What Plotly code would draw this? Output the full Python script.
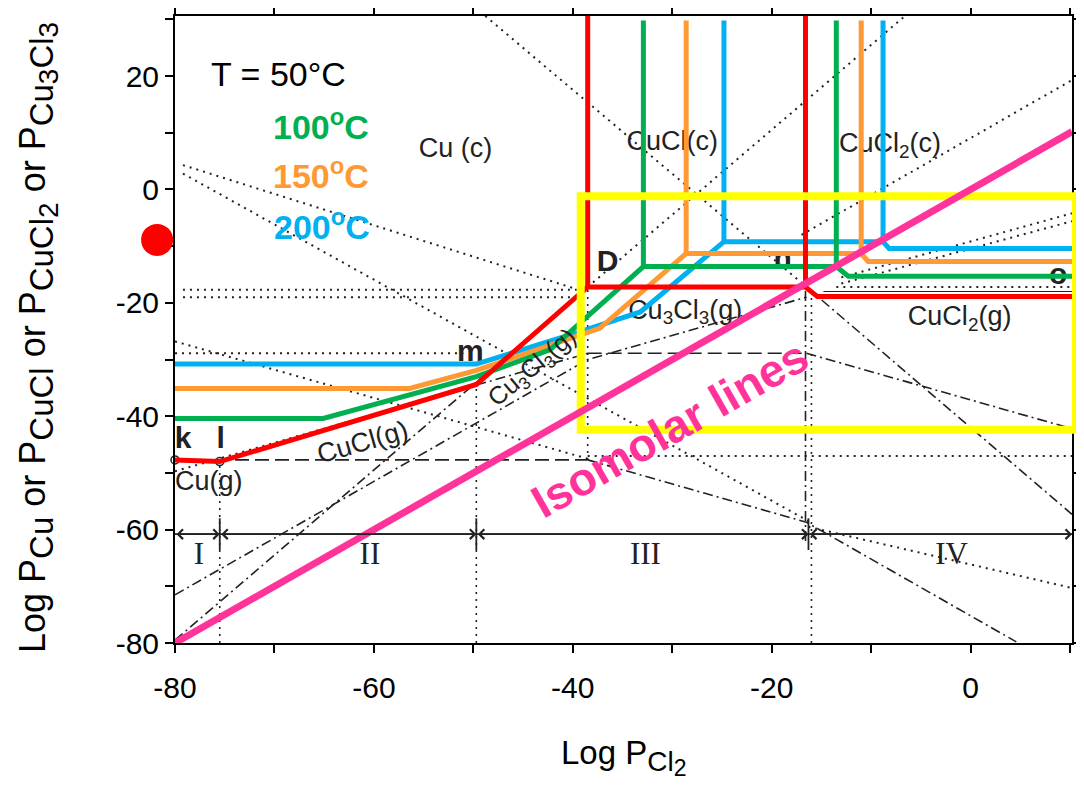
import plotly.graph_objects as go

FONT = "Liberation Sans, Arial, sans-serif"
SERIF = "Liberation Serif, Times New Roman, serif"

# ---------------- axes ----------------
X_RANGE = [-80, 10.2]
Y_RANGE = [-80, 30.6]
x_tick_vals = [-80, -70, -60, -50, -40, -30, -20, -10, 0, 10]
x_tick_text = ["-80", "", "-60", "", "-40", "", "-20", "", "0", ""]
y_tick_vals = [-80, -70, -60, -50, -40, -30, -20, -10, 0, 10, 20, 30]
y_tick_text = ["-80", "", "-60", "", "-40", "", "-20", "", "0", "", "20", ""]

# ---------------- coloured phase boundaries (one per temperature) ----------------
red_x = [-80, -75.5, -49.7, -38.5, -16.6, -15.4, 10.2]
red_y = [-47.7, -48.0, -34.4, -17.2, -17.2, -18.9, -18.9]
red_vx = [-38.5, -16.6]
red_vy0 = [-17.2, -17.2]
red_vy1 = [30.6, 30.6]

green_x = [-80, -65.1, -49.7, -42.3, -32.9, -13.5, -12.3, 10.2]
green_y = [-40.4, -40.4, -33.0, -28.3, -13.6, -13.6, -15.3, -15.3]
green_vx = [-32.9, -13.5]
green_vy0 = [-13.6, -13.6]
green_vy1 = [29.8, 29.8]

orange_x = [-80, -56.4, -49.7, -37.3, -28.6, -11.0, -10.3, 10.2]
orange_y = [-35.1, -35.1, -31.9, -24.5, -11.3, -11.3, -12.7, -12.7]
orange_vx = [-28.6, -11.0]
orange_vy0 = [-11.3, -11.3]
orange_vy1 = [29.8, 29.8]

blue_x = [-80, -49.7, -39.8, -33.2, -24.8, -8.8, -8.2, 10.2]
blue_y = [-30.8, -30.8, -25.4, -21.6, -9.2, -9.2, -10.4, -10.4]
blue_vx = [-24.8, -8.8]
blue_vy0 = [-9.2, -9.2]
blue_vy1 = [29.8, 29.8]

# ---------------- black species lines of the original diagram ----------------
cu_g_x1 = [-80, -38.5]
cu_g_y1 = [-47.7, -47.7]
cu_g_x2 = [-38.5, -16.5, 4.6]
cu_g_y2 = [-47.7, -58.7, -79.8]

cucl_g_x1 = [-80, -49.7]
cucl_g_y1 = [-49.7, -34.5]
cucl_g_x2 = [-49.7, -38.5]
cucl_g_y2 = [-34.5, -28.9]
cucl_g_x3 = [-38.5, -16.5]
cucl_g_y3 = [-28.9, -28.9]
cucl_g_x4 = [-16.5, 10.2]
cucl_g_y4 = [-28.9, -42.2]

cucl2_g_x = [-80, -38.5, -16.5]
cucl2_g_y = [-71.5, -30.0, -19.0]

cu3cl3_g_x1 = [-80, -38.5]
cu3cl3_g_y1 = [-79.5, -17.2]
cu3cl3_g_x2 = [-16.5, 10.2]
cu3cl3_g_y2 = [-17.2, -57.3]

# dotted guide lines: (x0, x1) and (y0, y1)
dot_x0 = [-79.2, -79.2, -16.3, -79.2, -79.2, -80.0, -38.5, -38.5, -48.8, -17.0, -13.0, -13.0, -13.5, -80.0]
dot_x1 = [-38.5, -16.3, 10.2, -39.6, -39.6, -51.0, 10.2, -6.6, -16.5, 10.2, 10.2, 10.2, 10.0, -38.5]
dot_y0 = [4.3, 2.8, -59.5, -17.7, -19.0, -28.9, -47.0, -17.2, 30.6, -8.0, -15.5, -16.6, -17.2, -26.8]
dot_y1 = [-18.2, -58.5, -70.3, -17.7, -19.0, -28.9, -47.0, 30.6, -17.2, 19.3, -4.2, -5.6, -17.2, -47.5]

# vertical dotted boundaries
vdot_x = [-75.5, -49.7, -38.5, -16.0]
vdot_y0 = [-80, -80, -47.7, -80]
vdot_y1 = [-48.0, -34.5, -17.2, -17.2]
vdash_x = [-16.6]
vdash_y0 = [-62.0]
vdash_y1 = [-17.2]

# region divider with arrows
region_y = -60.8
region_bounds = [-80, -75.5, -49.7, -16.3, 10.2]
region_names = ["I", "II", "III", "IV"]
region_label_x = [-77.6, -60.4, -32.7, -1.9]
region_label_y = -64.7

# isomolar line
iso_x = [-80, 10.2]
iso_y = [-80, 10.2]

# yellow highlight box
box_x = [-39.2, 10.6]
box_y = [-42.4, -1.2]

# labels
phase_text = ["Cu (c)", "CuCl(c)", "CuCl<sub>2</sub>(c)", "CuCl<sub>2</sub>(g)",
              "Cu<sub>3</sub>Cl<sub>3</sub>(g)", "Cu(g)"]
phase_x = [-51.8, -30.0, -8.1, -1.1, -28.7, -76.6]
phase_y = [7.0, 8.2, 7.8, -22.7, -21.6, -51.8]

point_text = ["k", "l", "m", "D", "n", "o"]
point_x = [-79.2, -75.4, -50.3, -36.5, -18.9, 8.8]
point_y = [-44.2, -44.2, -29.0, -13.0, -12.5, -15.3]

temp_text = ["T = 50°C", "<b>100<sup>o</sup>C</b>", "<b>150<sup>o</sup>C</b>", "<b>200<sup>o</sup>C</b>"]
temp_x = [-69.6, -65.3, -65.3, -65.2]
temp_y = [20.3, 11.4, 2.8, -6.1]
temp_color = ["black", "#00B050", "#FF9933", "#00B0F0"]

dot_marker_x = [-81.8]
dot_marker_y = [-8.9]

RED, GREEN, ORANGE, BLUE = "#FF0000", "#00B050", "#FF9933", "#00B0F0"
PINK, YELLOW = "#FF3399", "#FFFF00"
INK = "#222222"
DOT = "2px,5px"
DASHDOT = "10px,4px,2px,4px"
LONGDASH = "14px,6px"

# page geometry (browser body adds an 8 px offset)
FIG_W, FIG_H = 1076, 778
M_L, M_T, PLOT_W, PLOT_H = 167, 8, 897, 627

fig = go.Figure()


def black(x, y, dash, width=1.6):
    fig.add_trace(go.Scatter(x=x, y=y, mode="lines", hoverinfo="skip", showlegend=False,
                             line=dict(color=INK, width=width, dash=dash)))


# species lines
black(cu_g_x1, cu_g_y1, LONGDASH)
black(cu_g_x2, cu_g_y2, DASHDOT)
black(cucl_g_x1, cucl_g_y1, DOT, 2)
black(cucl_g_x2, cucl_g_y2, DASHDOT)
black(cucl_g_x3, cucl_g_y3, LONGDASH)
black(cucl_g_x4, cucl_g_y4, DASHDOT)
black(cucl2_g_x, cucl2_g_y, DASHDOT)
black(cu3cl3_g_x1, cu3cl3_g_y1, DASHDOT)
black(cu3cl3_g_x2, cu3cl3_g_y2, DASHDOT)

for a, b, c, d in zip(dot_x0, dot_x1, dot_y0, dot_y1):
    black([a, b], [c, d], DOT, 2)
for a, c, d in zip(vdot_x, vdot_y0, vdot_y1):
    black([a, a], [c, d], DOT, 1.6)
for a, c, d in zip(vdash_x, vdash_y0, vdash_y1):
    black([a, a], [c, d], DASHDOT, 1.6)
black([-14.8, 10.2], [-18.0, -18.0], "solid", 1.2)

# region divider
black([region_bounds[0], region_bounds[-1]], [region_y, region_y], "solid", 1.8)
for b in region_bounds[1:-1]:
    black([b, b], [region_y + 2.8, region_y - 2.8], "solid", 1.8)

# open circles at k and l
fig.add_trace(go.Scatter(x=[cu_g_x1[0], red_x[1]], y=[cu_g_y1[0], red_y[1]], mode="markers",
                         hoverinfo="skip", showlegend=False, cliponaxis=False,
                         marker=dict(size=8, color="white", line=dict(color=INK, width=1.5))))

# phase labels and point labels (under coloured lines)
fig.add_trace(go.Scatter(x=phase_x, y=phase_y, mode="text", text=phase_text, hoverinfo="skip",
                         showlegend=False, cliponaxis=False,
                         textfont=dict(family=FONT, size=27, color=INK)))
fig.add_trace(go.Scatter(x=point_x, y=point_y, mode="text", text=["<b>%s</b>" % t for t in point_text],
                         hoverinfo="skip", showlegend=False, cliponaxis=False,
                         textfont=dict(family=FONT, size=30, color=INK)))
fig.add_trace(go.Scatter(x=region_label_x, y=[region_label_y] * 4, mode="text", text=region_names,
                         hoverinfo="skip", showlegend=False,
                         textfont=dict(family=SERIF, size=31, color=INK)))


def colored(x, y, vx, vy0, vy1, color):
    fig.add_trace(go.Scatter(x=x, y=y, mode="lines", hoverinfo="skip", showlegend=False,
                             line=dict(color=color, width=5)))
    xs, ys = [], []
    for a, c, d in zip(vx, vy0, vy1):
        xs += [a, a, None]
        ys += [c, d, None]
    fig.add_trace(go.Scatter(x=xs, y=ys, mode="lines", hoverinfo="skip", showlegend=False,
                             line=dict(color=color, width=5)))


colored(blue_x, blue_y, blue_vx, blue_vy0, blue_vy1, BLUE)
colored(orange_x, orange_y, orange_vx, orange_vy0, orange_vy1, ORANGE)
colored(green_x, green_y, green_vx, green_vy0, green_vy1, GREEN)
colored(red_x, red_y, red_vx, red_vy0, red_vy1, RED)


def px(x):
    return (x - X_RANGE[0]) / (X_RANGE[1] - X_RANGE[0])


def py(y):
    return (y - Y_RANGE[0]) / (Y_RANGE[1] - Y_RANGE[0])


shapes = [
    dict(type="rect", xref="paper", yref="paper", x0=px(box_x[0]), x1=px(box_x[1]),
         y0=py(box_y[0]), y1=py(box_y[1]), line=dict(color=YELLOW, width=8), layer="above"),
    dict(type="line", xref="x", yref="y", x0=iso_x[0], y0=iso_y[0], x1=iso_x[1], y1=iso_y[1],
         line=dict(color=PINK, width=7), layer="above"),
    # red dot sitting left of the frame
    dict(type="circle", xref="paper", yref="paper", xsizemode="pixel", ysizemode="pixel",
         xanchor=px(dot_marker_x[0]), yanchor=py(dot_marker_y[0]), x0=-16, x1=16, y0=-16, y1=16,
         fillcolor=RED, line=dict(width=0), layer="above"),
]


def sub(t, size):
    return "<sub><span style='font-size:%dpx'>%s</span></sub>" % (size, t)


def sub2(parts, size, size2):
    out = ""
    for t, low in parts:
        if low:
            out += "<sub><span style='font-size:%dpx'>%s</span></sub>" % (size2, t)
        else:
            out += "<span style='font-size:%dpx'>%s</span>" % (size, t)
    return "<sub>" + out + "</sub>"


y_title = ("Log P" + sub("Cu", 33) + " or P" + sub("CuCl", 33) + " or P"
           + sub2([("CuCl", False), ("2", True)], 33, 28) + " or P"
           + sub2([("Cu", False), ("3", True), ("Cl", False), ("3", True)], 33, 28))
x_title = "Log P" + sub2([("Cl", False), ("2", True)], 28, 23)

annotations = []
# arrows of region divider
for a, b in zip(region_bounds[:-1], region_bounds[1:]):
    annotations.append(dict(x=b, y=region_y, ax=a, ay=region_y, xref="x", yref="y", axref="x", ayref="y",
                            text="", showarrow=True, arrowside="end+start", arrowhead=4,
                            arrowsize=1.2, arrowwidth=1.6, arrowcolor=INK, standoff=0, startstandoff=0))
# rotated species labels
annotations.append(dict(x=-61.1, y=-44.5, xref="x", yref="y", text="CuCl(g)", showarrow=False,
                        textangle=-16, font=dict(family=FONT, size=27, color=INK)))
annotations.append(dict(x=-44.0, y=-31.5, xref="x", yref="y", text="Cu<sub>3</sub>Cl<sub>3</sub>(g)",
                        showarrow=False, textangle=-40, font=dict(family=FONT, size=25, color=INK)))
# temperature legend
for t, x, y, c in zip(temp_text, temp_x, temp_y, temp_color):
    annotations.append(dict(x=x, y=y, xref="x", yref="y", text=t, showarrow=False,
                            font=dict(family=FONT, size=34, color=c)))
# isomolar text
annotations.append(dict(x=-30.3, y=-42.2, xref="x", yref="y", text="<b>Isomolar lines</b>",
                        showarrow=False, textangle=-29.7, font=dict(family=FONT, size=46, color=PINK)))
# axis titles (positions in page pixels converted to paper units)
annotations.append(dict(x=(30 - M_L) / PLOT_W, y=(M_T + PLOT_H - 330) / PLOT_H, xref="paper", yref="paper",
                        xanchor="center", yanchor="middle", textangle=-90, showarrow=False,
                        text=y_title, font=dict(family=FONT, size=36, color="black")))
annotations.append(dict(x=0.5, y=(M_T + PLOT_H - 749) / PLOT_H, xref="paper", yref="paper",
                        xanchor="center", yanchor="middle", showarrow=False,
                        text=x_title, font=dict(family=FONT, size=33, color="black")))

axis_common = dict(showgrid=False, zeroline=False, showline=True, linecolor="black", linewidth=2,
                   mirror="ticks", ticks="outside", ticklen=8, tickwidth=2, tickcolor="black",
                   automargin=False,
                   tickfont=dict(family=FONT, size=30, color="black"))

fig.update_layout(
    width=FIG_W, height=FIG_H, autosize=False,
    margin=dict(l=M_L, r=FIG_W - M_L - PLOT_W, t=M_T, b=FIG_H - M_T - PLOT_H, pad=0, autoexpand=False),
    paper_bgcolor="white", plot_bgcolor="white",
    xaxis=dict(range=X_RANGE, tickmode="array", tickvals=x_tick_vals, ticktext=x_tick_text,
               ticklabelstandoff=9, **axis_common),
    yaxis=dict(range=Y_RANGE, tickmode="array", tickvals=y_tick_vals, ticktext=y_tick_text,
               **axis_common),
    shapes=shapes, annotations=annotations, showlegend=False,
)

fig.write_html("out.html")
